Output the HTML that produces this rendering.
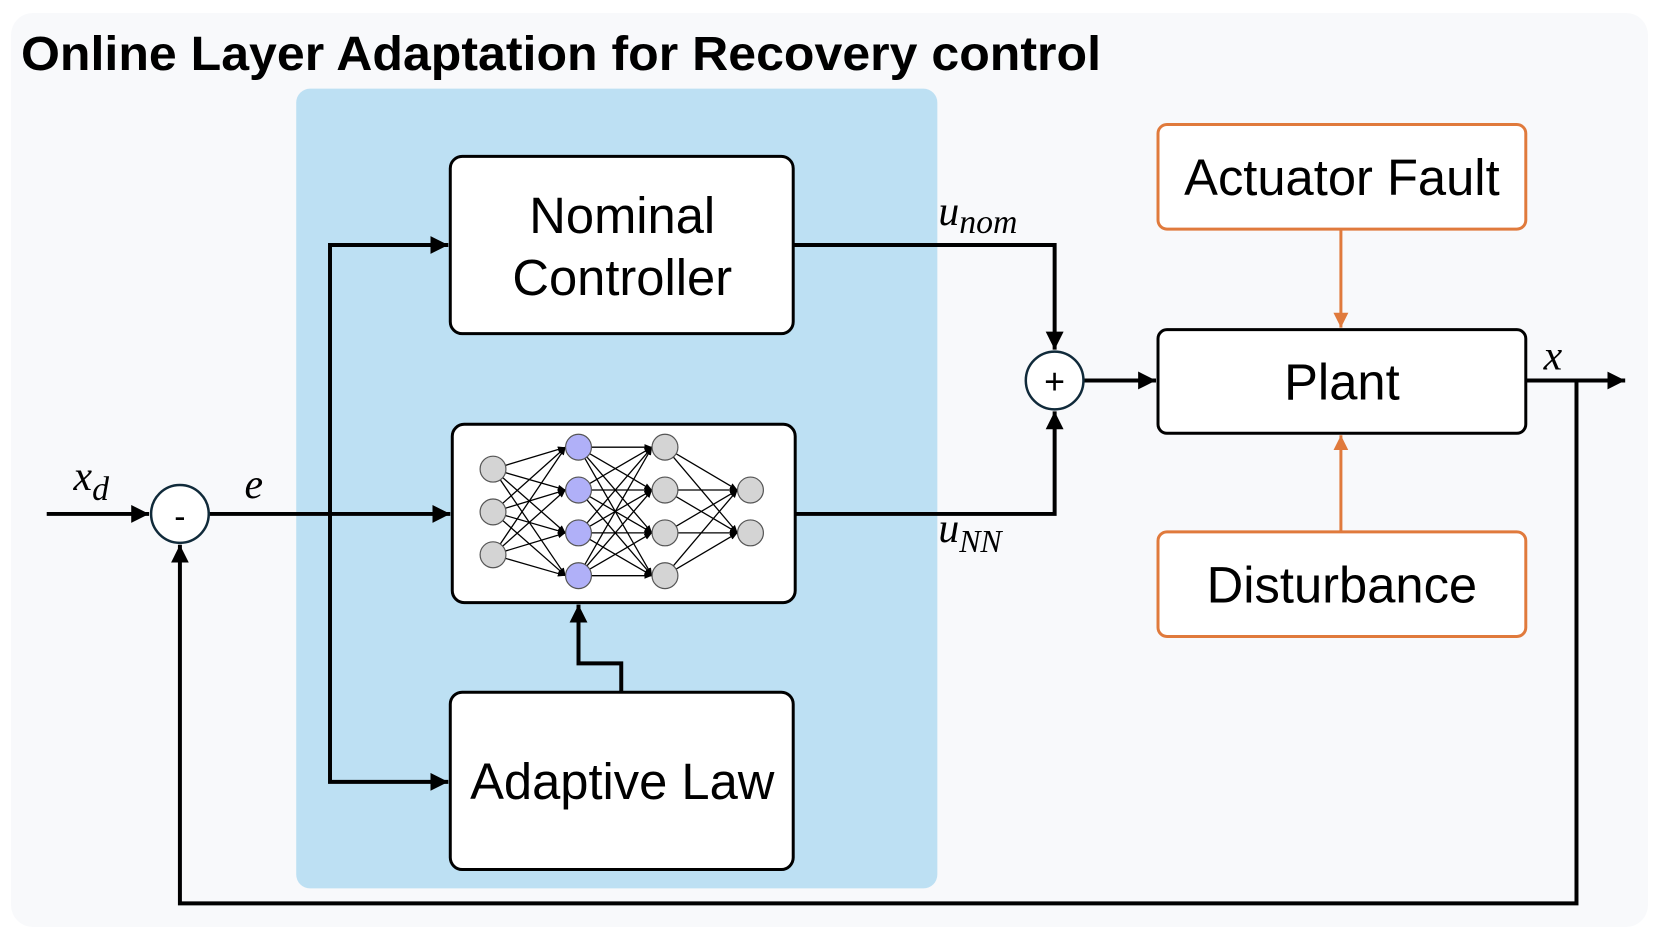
<!DOCTYPE html>
<html><head><meta charset="utf-8"><style>html,body{margin:0;padding:0;background:#fff}svg{display:block}</style></head>
<body>
<svg width="1653" height="931" viewBox="0 0 1653 931" xmlns="http://www.w3.org/2000/svg">
<defs>
<marker id="ab" viewBox="0 0 10 10" refX="10" refY="5" markerWidth="4.5" markerHeight="4.5" orient="auto" markerUnits="strokeWidth"><path d="M0,0 L10,5 L0,10 z" fill="#000"/></marker>
<marker id="ao" viewBox="0 0 10 10" refX="10" refY="5" markerWidth="5" markerHeight="5" orient="auto" markerUnits="strokeWidth"><path d="M0,0 L10,5 L0,10 z" fill="#e07a3c"/></marker>
<marker id="an" viewBox="0 0 10 10" refX="10" refY="5" markerWidth="6" markerHeight="6" orient="auto" markerUnits="strokeWidth"><path d="M0,1 L10,5 L0,9 z" fill="#000"/></marker>
</defs>
<rect x="0" y="0" width="1653" height="931" fill="#fff"/>
<rect x="11" y="13" width="1637" height="914" rx="22" fill="#f8f9fb"/>
<text x="21" y="70" font-family="Liberation Sans, sans-serif" font-weight="bold" font-size="48" textLength="1080" lengthAdjust="spacingAndGlyphs">Online Layer Adaptation for Recovery control</text>
<g transform="scale(0.994,0.996)">
<rect x="298" y="89" width="645" height="803" rx="14" fill="#bde0f3"/>

<g fill="#fff" stroke="#000" stroke-width="3">
<rect x="453" y="157" width="345" height="178" rx="12"/>
<rect x="455" y="426" width="345" height="179" rx="12"/>
<rect x="453" y="695" width="345" height="178" rx="12"/>
<rect x="1165" y="331" width="370" height="104" rx="9"/>
</g>
<g fill="#fff" stroke="#e07a3c" stroke-width="3">
<rect x="1165" y="125" width="370" height="105" rx="9"/>
<rect x="1165" y="534" width="370" height="105" rx="9"/>
</g>
<g font-family="Liberation Sans, sans-serif" font-size="51" text-anchor="middle" fill="#000">
<text x="626" y="234">Nominal</text>
<text x="626" y="296">Controller</text>
<text x="626" y="802">Adaptive Law</text>
<text x="1350" y="401">Plant</text>
<text x="1350" y="196">Actuator Fault</text>
<text x="1350" y="605">Disturbance</text>
</g>

<g stroke="#000" stroke-width="4" fill="none">
<line x1="47" y1="516" x2="150" y2="516" marker-end="url(#ab)"/>
<line x1="210" y1="516" x2="453" y2="516" marker-end="url(#ab)"/>
<polyline points="332,516 332,246 451,246" marker-end="url(#ab)"/>
<polyline points="332,516 332,785 451,785" marker-end="url(#ab)"/>
<polyline points="798,246 1061,246 1061,351" marker-end="url(#ab)"/>
<polyline points="800,516 1061,516 1061,413" marker-end="url(#ab)"/>
<line x1="1090" y1="382" x2="1163" y2="382" marker-end="url(#ab)"/>
<line x1="1535" y1="382" x2="1635" y2="382" marker-end="url(#ab)"/>
<polyline points="1586,382 1586,907 181,907 181,547" marker-end="url(#ab)"/>
<polyline points="625,695 625,666 582,666 582,607" marker-end="url(#ab)"/>
</g>
<g stroke="#e07a3c" stroke-width="3" fill="none">
<line x1="1349" y1="230" x2="1349" y2="329" marker-end="url(#ao)"/>
<line x1="1349" y1="534" x2="1349" y2="437" marker-end="url(#ao)"/>
</g>
<g fill="#fff" stroke="#102a3a" stroke-width="2.5">
<circle cx="1061" cy="382" r="29"/>
<circle cx="181" cy="516" r="29"/>
</g>
<text x="1061" y="395" font-family="Liberation Sans, sans-serif" font-size="36" text-anchor="middle">+</text>
<text x="181" y="530" font-family="Liberation Sans, sans-serif" font-size="34" text-anchor="middle">-</text>

<g font-family="Liberation Serif, serif" font-style="italic" font-size="42" fill="#000">
<text x="944" y="226">u<tspan font-size="34" dy="8">nom</tspan></text>
<text x="944" y="544">u<tspan font-size="32" dy="10">NN</tspan></text>
<text x="74" y="492">x<tspan font-size="34" dy="10">d</tspan></text>
<text x="246" y="500">e</text>
<text x="1553" y="371">x</text>
</g>

<g stroke="#000" stroke-width="1.3" fill="none">
<line x1="496" y1="471" x2="569" y2="449" marker-end="url(#an)"/><line x1="496" y1="471" x2="569" y2="492" marker-end="url(#an)"/><line x1="496" y1="471" x2="569" y2="535" marker-end="url(#an)"/><line x1="496" y1="471" x2="569" y2="578" marker-end="url(#an)"/>
<line x1="496" y1="514" x2="569" y2="449" marker-end="url(#an)"/><line x1="496" y1="514" x2="569" y2="492" marker-end="url(#an)"/><line x1="496" y1="514" x2="569" y2="535" marker-end="url(#an)"/><line x1="496" y1="514" x2="569" y2="578" marker-end="url(#an)"/>
<line x1="496" y1="557" x2="569" y2="449" marker-end="url(#an)"/><line x1="496" y1="557" x2="569" y2="492" marker-end="url(#an)"/><line x1="496" y1="557" x2="569" y2="535" marker-end="url(#an)"/><line x1="496" y1="557" x2="569" y2="578" marker-end="url(#an)"/>
<line x1="582" y1="449" x2="656" y2="449" marker-end="url(#an)"/><line x1="582" y1="449" x2="656" y2="492" marker-end="url(#an)"/><line x1="582" y1="449" x2="656" y2="535" marker-end="url(#an)"/><line x1="582" y1="449" x2="656" y2="578" marker-end="url(#an)"/>
<line x1="582" y1="492" x2="656" y2="449" marker-end="url(#an)"/><line x1="582" y1="492" x2="656" y2="492" marker-end="url(#an)"/><line x1="582" y1="492" x2="656" y2="535" marker-end="url(#an)"/><line x1="582" y1="492" x2="656" y2="578" marker-end="url(#an)"/>
<line x1="582" y1="535" x2="656" y2="449" marker-end="url(#an)"/><line x1="582" y1="535" x2="656" y2="492" marker-end="url(#an)"/><line x1="582" y1="535" x2="656" y2="535" marker-end="url(#an)"/><line x1="582" y1="535" x2="656" y2="578" marker-end="url(#an)"/>
<line x1="582" y1="578" x2="656" y2="449" marker-end="url(#an)"/><line x1="582" y1="578" x2="656" y2="492" marker-end="url(#an)"/><line x1="582" y1="578" x2="656" y2="535" marker-end="url(#an)"/><line x1="582" y1="578" x2="656" y2="578" marker-end="url(#an)"/>
<line x1="669" y1="449" x2="742" y2="492" marker-end="url(#an)"/><line x1="669" y1="449" x2="742" y2="535" marker-end="url(#an)"/>
<line x1="669" y1="492" x2="742" y2="492" marker-end="url(#an)"/><line x1="669" y1="492" x2="742" y2="535" marker-end="url(#an)"/>
<line x1="669" y1="535" x2="742" y2="492" marker-end="url(#an)"/><line x1="669" y1="535" x2="742" y2="535" marker-end="url(#an)"/>
<line x1="669" y1="578" x2="742" y2="492" marker-end="url(#an)"/><line x1="669" y1="578" x2="742" y2="535" marker-end="url(#an)"/>
</g>
<g stroke="#555" stroke-width="1.2">
<g fill="#d4d4d4"><circle cx="496" cy="471" r="13"/><circle cx="496" cy="514" r="13"/><circle cx="496" cy="557" r="13"/></g>
<g fill="#b0b0f8"><circle cx="582" cy="449" r="13"/><circle cx="582" cy="492" r="13"/><circle cx="582" cy="535" r="13"/><circle cx="582" cy="578" r="13"/></g>
<g fill="#d4d4d4"><circle cx="669" cy="449" r="13"/><circle cx="669" cy="492" r="13"/><circle cx="669" cy="535" r="13"/><circle cx="669" cy="578" r="13"/>
<circle cx="755" cy="492" r="13"/><circle cx="755" cy="535" r="13"/></g>
</g>
</g>
</svg>
</body></html>
